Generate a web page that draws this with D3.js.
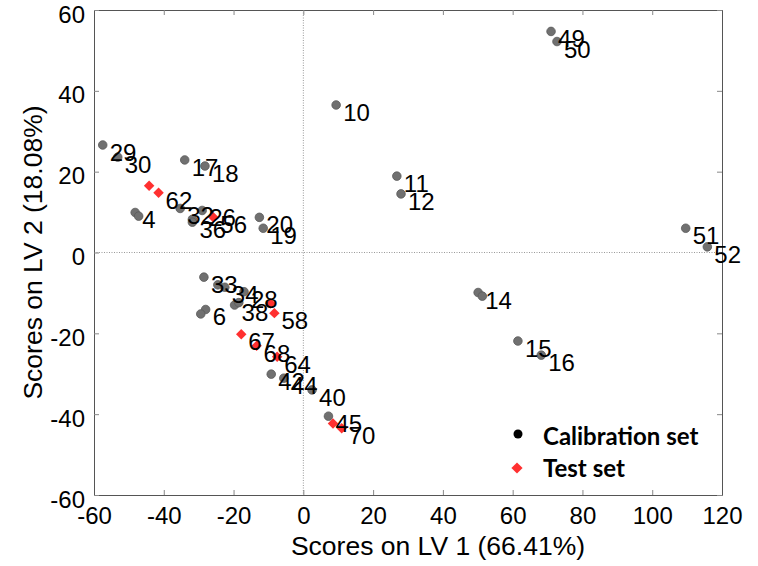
<!DOCTYPE html>
<html>
<head>
<meta charset="utf-8">
<script src="https://cdn.jsdelivr.net/npm/d3@7/dist/d3.min.js"></script>
<style>
  html, body { margin: 0; padding: 0; background: #fff; }
  svg { display: block; }
</style>
</head>
<body>
<svg id="chart" width="758" height="566"></svg>
<script>
// PLS score plot: LV1 vs LV2 for calibration and test samples

const xTicks = [-60, -40, -20, 0, 20, 40, 60, 80, 100, 120];
const yTicks = [-60, -40, -20, 0, 20, 40, 60];

// Calibration samples
const calLabels = ["29", "30", "17", "18", "4", "", "32", "26", "", "36", "20", "19",
  "10", "11", "12", "49", "50", "51", "52", "14", "", "15", "16",
  "33", "", "34", "28", "38", "", "6", "", "42", "44", "40", "45"];
const calX = [-57.5, -53.2, -34.0, -28.2, -48.2, -47.2, -35.3, -29.0, -31.8, -31.8, -12.6, -11.5,
  9.4, 26.8, 28.0, 71.0, 72.7, 109.6, 115.8, 50.1, 51.3, 61.5, 68.2,
  -28.5, -24.5, -22.5, -17.0, -19.7, -18.5, -28.0, -29.4, -9.2, -5.6, 2.5, 7.2];
const calY = [26.6, 23.6, 22.9, 21.4, 9.9, 9.0, 10.9, 10.4, 8.2, 7.5, 8.7, 6.0,
  36.5, 18.9, 14.5, 54.7, 52.2, 6.0, 1.4, -9.9, -10.8, -21.9, -25.4,
  -6.1, -8.0, -8.6, -9.7, -13.0, -12.4, -14.1, -15.2, -30.1, -31.1, -34.0, -40.5];

// Test samples
const testLabels = ["", "62", "56", "", "58", "67", "68", "64", "", "70"];
const testX = [-44.2, -41.5, -25.8, -9.4, -8.3, -17.8, -13.4, -7.5, 8.5, 11.0];
const testY = [16.5, 14.8, 8.7, -12.6, -15.0, -20.2, -23.1, -25.8, -42.3, -43.5];

const legendNames = ["Calibration set", "Test set"];

(function draw() {
  const svg = d3.select("#chart");
  const pLeft = 94, pRight = 722, pTop = 10, pBottom = 495;

  const x = d3.scaleLinear().domain([-60, 120]).range([pLeft, pRight]);
  const y = d3.scaleLinear().domain([-60, 60]).range([pBottom, pTop]);

  const axisColor = "#555";
  const font = "Arial, 'Liberation Sans', sans-serif";
  const fmt = d => String(d);

  // zero reference lines
  svg.append("line")
    .attr("x1", x(0)).attr("x2", x(0)).attr("y1", pTop).attr("y2", pBottom)
    .attr("stroke", "#999").attr("stroke-width", 1).attr("stroke-dasharray", "1,1.5");
  svg.append("line")
    .attr("x1", pLeft).attr("x2", pRight).attr("y1", y(0)).attr("y2", y(0))
    .attr("stroke", "#999").attr("stroke-width", 1).attr("stroke-dasharray", "1,1.5");

  // axes: inward ticks on all four sides
  const tickLen = 5;
  const axB = svg.append("g").attr("transform", `translate(0,${pBottom})`)
    .call(d3.axisBottom(x).tickValues(xTicks).tickFormat(fmt).tickSizeInner(-tickLen).tickSizeOuter(0).tickPadding(12));
  const axT = svg.append("g").attr("transform", `translate(0,${pTop})`)
    .call(d3.axisTop(x).tickValues(xTicks).tickSizeInner(-tickLen).tickSizeOuter(0).tickFormat(""));
  const axL = svg.append("g").attr("transform", `translate(${pLeft},0)`)
    .call(d3.axisLeft(y).tickValues(yTicks).tickFormat(fmt).tickSizeInner(-tickLen).tickSizeOuter(0).tickPadding(9));
  const axR = svg.append("g").attr("transform", `translate(${pRight},0)`)
    .call(d3.axisRight(y).tickValues(yTicks).tickSizeInner(-tickLen).tickSizeOuter(0).tickFormat(""));

  [axB, axT, axL, axR].forEach(g => {
    g.select(".domain").attr("stroke", axisColor);
    g.selectAll(".tick line").attr("stroke", "#888");
    g.selectAll("text").attr("font-family", font).attr("font-size", 24).attr("fill", "#000");
  });
  axL.selectAll(".tick text").attr("dy", "0.5em");
  axB.selectAll(".tick text").attr("dy", "0.71em");

  // axis titles
  svg.append("text")
    .attr("x", 438).attr("y", 555)
    .attr("text-anchor", "middle")
    .attr("font-family", font).attr("font-size", 26.5)
    .text("Scores on LV 1 (66.41%)");
  svg.append("text")
    .attr("transform", `translate(42,${(pTop + pBottom) / 2}) rotate(-90)`)
    .attr("text-anchor", "middle")
    .attr("font-family", font).attr("font-size", 26.5)
    .text("Scores on LV 2 (18.08%)");

  const diamond = d3.symbol().type(d3.symbolDiamond2).size(70);

  const cal = calX.map((v, i) => ({ x: v, y: calY[i], label: calLabels[i] }));
  const test = testX.map((v, i) => ({ x: v, y: testY[i], label: testLabels[i] }));

  // calibration points
  svg.append("g").selectAll("circle").data(cal).join("circle")
    .attr("cx", d => x(d.x)).attr("cy", d => y(d.y)).attr("r", 4.3)
    .attr("fill", "#707070").attr("stroke", "#5a5a5a").attr("stroke-width", 0.8);

  // test points
  svg.append("g").selectAll("path").data(test).join("path")
    .attr("d", diamond)
    .attr("transform", d => `translate(${x(d.x)},${y(d.y)})`)
    .attr("fill", "#ff3030");

  // sample labels
  const labelData = cal.concat(test).filter(d => d.label !== "");
  svg.append("g").selectAll("text").data(labelData).join("text")
    .attr("x", d => x(d.x) + 7)
    .attr("y", d => y(d.y) + 16)
    .attr("font-family", font).attr("font-size", 24).attr("fill", "#000")
    .text(d => d.label);

  // legend
  const lg = svg.append("g");
  lg.append("circle").attr("cx", 518).attr("cy", 434).attr("r", 4.5).attr("fill", "#000");
  lg.append("path").attr("d", d3.symbol().type(d3.symbolDiamond2).size(80))
    .attr("transform", "translate(517,468)").attr("fill", "#ff3030");
  lg.selectAll("text").data(legendNames).join("text")
    .attr("x", 543).attr("y", (d, i) => 445 + i * 32)
    .attr("font-family", "Lato, 'Open Sans', sans-serif").attr("font-weight", "bold")
    .attr("font-size", 24).attr("fill", "#000")
    .text(d => d);
})();
</script>
</body>
</html>
